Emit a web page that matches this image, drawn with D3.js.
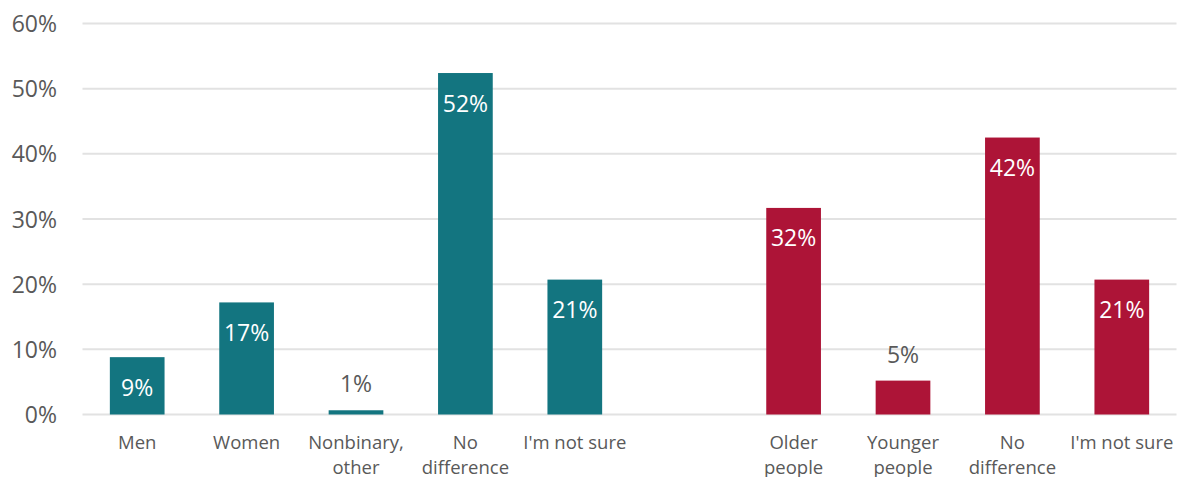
<!DOCTYPE html>
<html>
<head>
<meta charset="utf-8">
<script src="https://cdn.jsdelivr.net/npm/d3@7"></script>
<style>
  html, body { margin: 0; padding: 0; background: #fff; }
  svg { display: block; font-family: "Open Sans", sans-serif; }
</style>
</head>
<body>
<svg id="chart" width="1178" height="477"></svg>
<script>
// Data
const categories = ["Men", "Women", "Nonbinary, other", "No difference", "I'm not sure", "",
                    "Older people", "Younger people", "No difference ", "I'm not sure "];
const categoryLines = [["Men"], ["Women"], ["Nonbinary,", "other"], ["No", "difference"], ["I'm not sure"], [],
                       ["Older", "people"], ["Younger", "people"], ["No", "difference"], ["I'm not sure"]];
const values = [8.8, 17.2, 0.65, 52.4, 20.7, null, 31.7, 5.2, 42.5, 20.7];
const valueLabels = ["9%", "17%", "1%", "52%", "21%", "", "32%", "5%", "42%", "21%"];
const groups = ["gender", "gender", "gender", "gender", "gender", "", "age", "age", "age", "age"];
const yTicks = [0, 10, 20, 30, 40, 50, 60];

const colors = { gender: "#137580", age: "#AD1437" };

const svg = d3.select("#chart");
const x = d3.scaleBand().domain(categories).range([82.5, 1176.5]).paddingInner(0.5).paddingOuter(0.25);
const y = d3.scaleLinear().domain([0, 60]).range([414.5, 23.5]);

// gridlines
svg.append("g").selectAll("line").data(yTicks).join("line")
  .attr("x1", 82.5).attr("x2", 1176.5)
  .attr("y1", d => y(d)).attr("y2", d => y(d))
  .attr("stroke", "#e2e2e2").attr("stroke-width", 2);

// y-axis labels
const yAxis = d3.axisLeft(y).tickValues(yTicks).tickFormat(d => d + "%").tickSize(0).tickPadding(0);
const yg = svg.append("g").attr("transform", "translate(57,0)").call(yAxis);
yg.select(".domain").remove();
yg.selectAll("text").attr("font-family", "'Open Sans', sans-serif").attr("font-size", 23)
  .attr("fill", "#595959").attr("dy", "0.35em");

// bars
const data = categories.map((c, i) => ({ c, v: values[i], label: valueLabels[i], g: groups[i], lines: categoryLines[i] }))
const barData = data.filter(d => d.v !== null);
svg.append("g").selectAll("rect").data(barData).join("rect")
  .attr("x", d => x(d.c)).attr("width", x.bandwidth())
  .attr("y", d => y(d.v)).attr("height", d => y(0) - y(d.v))
  .attr("fill", d => colors[d.g]);

// value labels
svg.append("g").selectAll("text").data(barData).join("text")
  .attr("x", d => x(d.c) + x.bandwidth() / 2)
  .attr("y", d => (y(0) - y(d.v)) > 45 ? y(d.v) + 38.5 : y(d.v) - 18)
  .attr("text-anchor", "middle")
  .attr("font-size", 23)
  .attr("fill", d => (y(0) - y(d.v)) > 45 ? "#ffffff" : "#595959")
  .text(d => d.label);

// category labels
const cg = svg.append("g").selectAll("text").data(data).join("text")
  .attr("x", d => x(d.c) + x.bandwidth() / 2)
  .attr("y", 448.5)
  .attr("text-anchor", "middle")
  .attr("font-size", 18.5)
  .attr("fill", "#595959");
cg.selectAll("tspan").data(d => d.lines.map(l => ({ l, x: x(d.c) + x.bandwidth() / 2 }))).join("tspan")
  .attr("x", t => t.x)
  .attr("dy", (t, i) => i === 0 ? 0 : 25)
  .text(t => t.l);
</script>
</body>
</html>
